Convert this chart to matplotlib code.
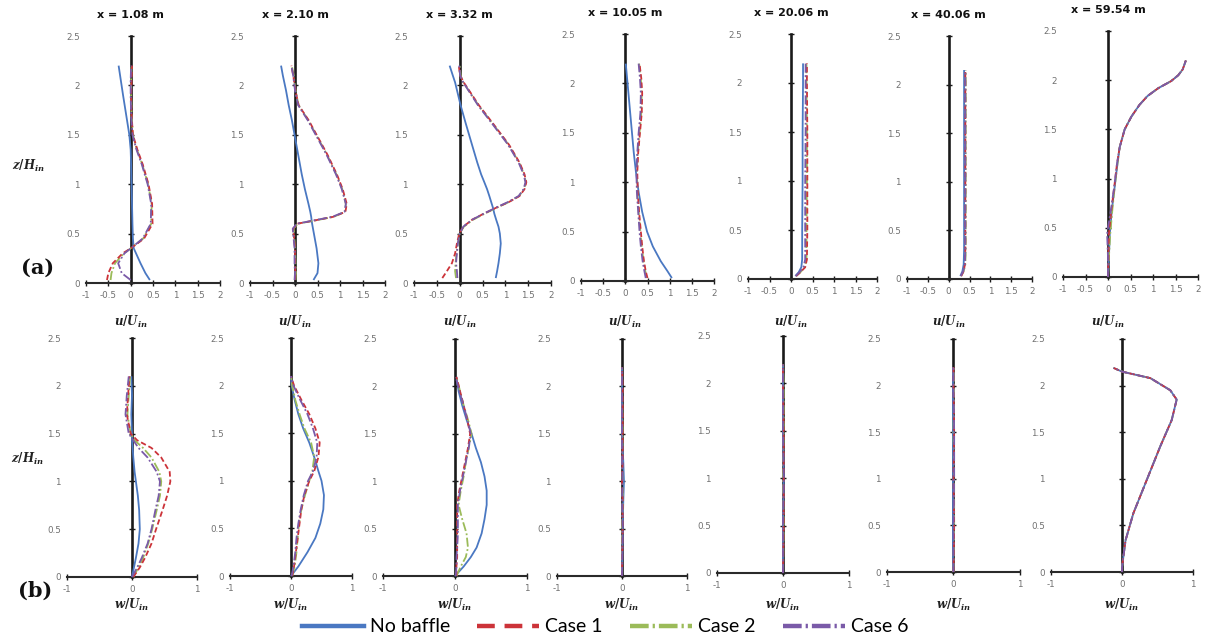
import matplotlib
matplotlib.use("Agg")
import matplotlib.pyplot as plt
from matplotlib.lines import Line2D
from matplotlib.transforms import blended_transform_factory

plt.rcParams["mathtext.fontset"] = "custom"
plt.rcParams["mathtext.it"] = "DejaVu Serif:italic:bold"
plt.rcParams["mathtext.rm"] = "DejaVu Serif:bold"
plt.rcParams["font.family"] = ["DejaVu Sans"]

# ---------------- data: top row (u/U_in) ----------------
TOP_TITLES = ["x = 1.08 m", "x = 2.10 m", "x = 3.32 m", "x = 10.05 m",
              "x = 20.06 m", "x = 40.06 m", "x = 59.54 m"]
TOP_XTICKS = [-1, -0.5, 0, 0.5, 1, 1.5, 2]
TOP_XTICKLABELS = ["-1", "-0.5", "0", "0.5", "1", "1.5", "2"]
BOT_XTICKS = [-1, 0, 1]
BOT_XTICKLABELS = ["-1", "0", "1"]
YTICKS = [0, 0.5, 1, 1.5, 2, 2.5]
YTICKLABELS = ["0", "0.5", "1", "1.5", "2", "2.5"]
SERIES = ["No baffle", "Case 1", "Case 2", "Case 6"]

T1_Z  = [0.03, 0.1, 0.2, 0.3, 0.35, 0.45, 0.6, 0.8, 1.0, 1.2, 1.35, 1.5, 1.7, 1.9, 2.05, 2.2]
T1_NB = [0.43, 0.33, 0.22, 0.12, 0.07, 0.05, 0.04, 0.03, 0.02, 0.01, 0.0, -0.03, -0.1, -0.17, -0.22, -0.27]
T1_C1 = [-0.53, -0.5, -0.4, -0.18, 0.0, 0.3, 0.49, 0.48, 0.4, 0.27, 0.15, 0.05, 0.02, 0.01, 0.02, 0.03]
T1_C2 = [-0.45, -0.43, -0.35, -0.15, 0.0, 0.28, 0.46, 0.47, 0.39, 0.26, 0.14, 0.05, 0.02, 0.01, 0.01, 0.02]
T1_C6 = [0.0, -0.2, -0.28, -0.14, 0.0, 0.27, 0.45, 0.46, 0.38, 0.25, 0.13, 0.04, 0.01, 0.0, 0.0, 0.01]

T2_Z  = [0.03, 0.1, 0.2, 0.35, 0.5, 0.55, 0.6, 0.63, 0.67, 0.72, 0.8, 0.95, 1.1, 1.3, 1.5, 1.65, 1.8, 1.95, 2.1, 2.2]
T2_NB = [0.41, 0.5, 0.52, 0.48, 0.42, 0.4, 0.38, 0.37, 0.36, 0.34, 0.3, 0.22, 0.15, 0.07, -0.01, -0.07, -0.14, -0.2, -0.27, -0.31]
T2_C1 = [0.0, 0.01, 0.0, 0.0, -0.03, -0.04, 0.05, 0.4, 0.85, 1.12, 1.15, 1.06, 0.93, 0.72, 0.48, 0.3, 0.08, 0.01, -0.04, -0.08]
T2_C2 = [0.01, 0.02, 0.01, 0.0, -0.02, -0.03, 0.06, 0.42, 0.86, 1.11, 1.13, 1.05, 0.92, 0.71, 0.47, 0.29, 0.08, 0.01, -0.03, -0.07]
T2_C6 = [-0.01, 0.0, -0.01, -0.01, -0.04, -0.05, 0.04, 0.38, 0.83, 1.1, 1.13, 1.04, 0.91, 0.7, 0.46, 0.28, 0.07, 0.0, -0.04, -0.08]

T3_Z  = [0.05, 0.12, 0.2, 0.3, 0.4, 0.5, 0.57, 0.64, 0.7, 0.76, 0.82, 0.88, 0.95, 1.02, 1.1, 1.22, 1.4, 1.62, 1.8, 2.03, 2.1, 2.2]
T3_NB = [0.79, 0.82, 0.85, 0.88, 0.9, 0.88, 0.85, 0.8, 0.76, 0.73, 0.69, 0.65, 0.6, 0.54, 0.47, 0.385, 0.27, 0.13, 0.02, -0.1, -0.15, -0.22]
T3_C1 = [-0.38, -0.28, -0.17, -0.1, -0.06, -0.01, 0.08, 0.27, 0.52, 0.79, 1.08, 1.31, 1.42, 1.46, 1.42, 1.31, 1.08, 0.72, 0.42, 0.09, 0.01, -0.02]
T3_C2 = [-0.08, -0.1, -0.09, -0.07, -0.04, 0.0, 0.09, 0.29, 0.54, 0.8, 1.08, 1.3, 1.41, 1.45, 1.41, 1.3, 1.07, 0.71, 0.41, 0.08, 0.02, 0.0]
T3_C6 = [-0.05, -0.06, -0.08, -0.06, -0.04, 0.0, 0.08, 0.27, 0.52, 0.78, 1.06, 1.29, 1.4, 1.44, 1.4, 1.29, 1.06, 0.7, 0.4, 0.08, 0.01, -0.01]

T4_Z  = [0.03, 0.1, 0.2, 0.35, 0.5, 0.7, 0.9, 1.1, 1.3, 1.5, 1.7, 1.9, 2.05, 2.2]
T4_NB = [1.05, 0.95, 0.8, 0.62, 0.49, 0.38, 0.3, 0.24, 0.19, 0.15, 0.11, 0.07, 0.04, 0.01]
T4_C1 = [0.5, 0.46, 0.42, 0.38, 0.35, 0.31, 0.28, 0.27, 0.29, 0.33, 0.37, 0.38, 0.36, 0.32]
T4_C2 = [0.48, 0.45, 0.41, 0.37, 0.34, 0.3, 0.27, 0.26, 0.28, 0.32, 0.36, 0.37, 0.35, 0.31]
T4_C6 = [0.46, 0.43, 0.39, 0.35, 0.32, 0.29, 0.26, 0.25, 0.27, 0.3, 0.34, 0.35, 0.33, 0.3]

T5_Z  = [0.03, 0.07, 0.12, 0.2, 0.5, 1.0, 1.5, 2.0, 2.2]
T5_NB = [0.1, 0.18, 0.24, 0.26, 0.26, 0.27, 0.27, 0.28, 0.28]
T5_C1 = [0.12, 0.22, 0.33, 0.37, 0.38, 0.38, 0.38, 0.37, 0.37]
T5_C2 = [0.12, 0.22, 0.32, 0.36, 0.36, 0.37, 0.37, 0.36, 0.36]
T5_C6 = [0.11, 0.2, 0.29, 0.33, 0.33, 0.33, 0.34, 0.34, 0.34]

T6_Z  = [0.03, 0.08, 0.15, 0.3, 1.0, 2.0, 2.15]
T6_NB = [0.28, 0.33, 0.36, 0.37, 0.37, 0.37, 0.37]
T6_C1 = [0.3, 0.36, 0.39, 0.4, 0.4, 0.4, 0.4]
T6_C2 = [0.3, 0.36, 0.4, 0.41, 0.41, 0.41, 0.41]
T6_C6 = [0.29, 0.35, 0.39, 0.4, 0.4, 0.4, 0.4]

T7_Z  = [0.0, 0.2, 0.44, 0.7, 0.92, 1.15, 1.32, 1.5, 1.63, 1.75, 1.84, 1.92, 1.99, 2.05, 2.11, 2.2]
T7_NB = [0.0, 0.02, 0.04, 0.09, 0.15, 0.21, 0.26, 0.37, 0.52, 0.7, 0.88, 1.12, 1.4, 1.56, 1.66, 1.73]
T7_C1 = [0.0, 0.01, 0.02, 0.08, 0.14, 0.2, 0.26, 0.37, 0.52, 0.7, 0.88, 1.12, 1.4, 1.56, 1.66, 1.73]
T7_C2 = [0.0, 0.02, 0.05, 0.1, 0.15, 0.21, 0.26, 0.37, 0.52, 0.7, 0.88, 1.12, 1.4, 1.56, 1.66, 1.73]
T7_C6 = [0.0, 0.0, -0.02, 0.07, 0.14, 0.2, 0.26, 0.37, 0.52, 0.7, 0.88, 1.12, 1.4, 1.56, 1.66, 1.73]

# ---------------- data: bottom row (w/U_in) ----------------
B1_Z  = [0.0, 0.1, 0.2, 0.35, 0.5, 0.7, 0.85, 1.0, 1.1, 1.25, 1.35, 1.43, 1.5, 1.7, 1.9, 2.1]
B1_NB = [0.0, 0.03, 0.06, 0.1, 0.12, 0.11, 0.09, 0.06, 0.04, 0.02, 0.01, 0.0, 0.0, -0.01, 0.0, -0.01]
B1_C1 = [0.02, 0.12, 0.2, 0.3, 0.37, 0.47, 0.54, 0.59, 0.58, 0.45, 0.3, 0.08, -0.02, -0.08, -0.06, -0.04]
B1_C2 = [0.02, 0.1, 0.17, 0.25, 0.31, 0.38, 0.43, 0.45, 0.42, 0.3, 0.17, 0.04, -0.02, -0.07, -0.05, -0.03]
B1_C6 = [0.0, 0.08, 0.15, 0.24, 0.3, 0.36, 0.41, 0.43, 0.38, 0.24, 0.1, 0.02, -0.05, -0.1, -0.08, -0.05]

B2_Z  = [0.0, 0.1, 0.25, 0.4, 0.55, 0.7, 0.85, 1.0, 1.1, 1.25, 1.4, 1.55, 1.7, 1.85, 2.0, 2.1]
B2_NB = [0.0, 0.12, 0.27, 0.4, 0.48, 0.53, 0.54, 0.5, 0.45, 0.38, 0.3, 0.2, 0.12, 0.06, 0.01, 0.0]
B2_C1 = [0.02, 0.05, 0.08, 0.11, 0.14, 0.17, 0.22, 0.3, 0.38, 0.45, 0.47, 0.4, 0.3, 0.17, 0.05, 0.0]
B2_C2 = [0.02, 0.06, 0.09, 0.11, 0.13, 0.17, 0.23, 0.3, 0.35, 0.38, 0.33, 0.22, 0.14, 0.07, 0.02, 0.0]
B2_C6 = [0.01, 0.04, 0.07, 0.09, 0.12, 0.16, 0.21, 0.28, 0.36, 0.42, 0.43, 0.36, 0.27, 0.15, 0.04, 0.0]

B3_Z  = [0.0, 0.1, 0.2, 0.3, 0.45, 0.6, 0.75, 0.9, 1.05, 1.2, 1.35, 1.5, 1.65, 1.8, 1.95, 2.1]
B3_NB = [0.0, 0.12, 0.22, 0.3, 0.37, 0.41, 0.44, 0.44, 0.41, 0.36, 0.29, 0.23, 0.16, 0.1, 0.05, 0.02]
B3_C1 = [0.02, 0.02, 0.03, 0.03, 0.03, 0.03, 0.03, 0.06, 0.1, 0.14, 0.18, 0.21, 0.17, 0.12, 0.07, 0.02]
B3_C2 = [0.02, 0.08, 0.15, 0.18, 0.16, 0.1, 0.05, 0.08, 0.12, 0.15, 0.19, 0.23, 0.18, 0.12, 0.07, 0.02]
B3_C6 = [0.01, 0.02, 0.02, 0.03, 0.04, 0.04, 0.04, 0.07, 0.11, 0.15, 0.19, 0.22, 0.17, 0.12, 0.06, 0.01]

B4_Z  = [0.0, 0.5, 0.8, 1.0, 1.2, 1.5, 2.0, 2.2]
B4_NB = [0.0, 0.01, 0.02, 0.03, 0.02, 0.0, 0.0, 0.0]
B4_C1 = [0.0, 0.01, 0.01, 0.0, 0.01, 0.01, 0.01, 0.0]
B4_C2 = [0.0, 0.0, 0.01, 0.01, 0.0, 0.01, 0.0, 0.0]
B4_C6 = [0.0, 0.01, 0.0, 0.01, 0.0, 0.0, 0.0, 0.0]

B5_Z  = [0.0, 0.5, 1.0, 1.5, 2.0, 2.2]
B5_NB = [0.0, 0.0, 0.01, 0.0, 0.0, 0.0]
B5_C1 = [0.0, 0.01, 0.01, 0.01, 0.0, 0.0]
B5_C2 = [0.0, 0.01, 0.0, 0.01, 0.01, 0.0]
B5_C6 = [0.0, 0.0, 0.01, 0.0, 0.0, 0.0]

B6_Z  = [0.0, 0.5, 1.0, 1.5, 2.0, 2.2]
B6_NB = [0.0, 0.0, 0.0, 0.0, 0.0, 0.0]
B6_C1 = [0.0, 0.01, 0.0, 0.01, 0.0, 0.0]
B6_C2 = [0.0, 0.01, 0.01, 0.0, 0.01, 0.0]
B6_C6 = [0.0, 0.0, 0.01, 0.01, 0.0, 0.0]

B7_Z  = [0.0, 0.05, 0.34, 0.63, 0.99, 1.35, 1.63, 1.85, 1.95, 2.08, 2.15, 2.19]
B7_NB = [0.0, 0.0, 0.05, 0.16, 0.35, 0.54, 0.7, 0.77, 0.68, 0.4, 0.0, -0.12]
B7_C1 = [0.0, 0.0, 0.05, 0.16, 0.35, 0.54, 0.7, 0.77, 0.68, 0.4, 0.0, -0.12]
B7_C2 = [0.0, 0.0, 0.05, 0.16, 0.35, 0.54, 0.7, 0.77, 0.68, 0.4, 0.0, -0.12]
B7_C6 = [0.0, 0.0, 0.05, 0.16, 0.35, 0.54, 0.7, 0.77, 0.68, 0.4, 0.0, -0.12]

TOP_DATA = [
    (T1_Z, [T1_NB, T1_C1, T1_C2, T1_C6]),
    (T2_Z, [T2_NB, T2_C1, T2_C2, T2_C6]),
    (T3_Z, [T3_NB, T3_C1, T3_C2, T3_C6]),
    (T4_Z, [T4_NB, T4_C1, T4_C2, T4_C6]),
    (T5_Z, [T5_NB, T5_C1, T5_C2, T5_C6]),
    (T6_Z, [T6_NB, T6_C1, T6_C2, T6_C6]),
    (T7_Z, [T7_NB, T7_C1, T7_C2, T7_C6]),
]
BOT_DATA = [
    (B1_Z, [B1_NB, B1_C1, B1_C2, B1_C6]),
    (B2_Z, [B2_NB, B2_C1, B2_C2, B2_C6]),
    (B3_Z, [B3_NB, B3_C1, B3_C2, B3_C6]),
    (B4_Z, [B4_NB, B4_C1, B4_C2, B4_C6]),
    (B5_Z, [B5_NB, B5_C1, B5_C2, B5_C6]),
    (B6_Z, [B6_NB, B6_C1, B6_C2, B6_C6]),
    (B7_Z, [B7_NB, B7_C1, B7_C2, B7_C6]),
]

# ---------------- layout (pixel boxes: left, right, top, bottom) ----------------
W, H = 1227, 644
TOP_BOXES = [(86, 220, 36, 283), (250, 385, 36, 283), (414, 551, 36, 283),
             (581, 714, 34, 281), (748, 877, 34, 279), (907, 1032, 36, 279),
             (1063, 1198, 31, 277)]
BOT_BOXES = [(67, 197, 338, 577), (230, 352, 338, 576), (383, 527, 339, 576),
             (557, 687, 339, 576), (717, 849, 336, 573), (887, 1020, 339, 572),
             (1051, 1193, 339, 572)]

COLORS = ["#4a78c2", "#cc3339", "#9bbb59", "#7a5aa8"]
DASHES = [None, (3, 1.6), (5, 1.4, 1, 1.4), (5, 1.4, 1, 1.4)]
LEG_DASHES = [None, (4, 2.2), (4.2, 0.9, 0.5, 0.9), (4.2, 0.9, 0.5, 0.9)]
ORDER = [0, 2, 1, 3]

fig = plt.figure(figsize=(W / 100, H / 100), dpi=100)


def make_axes(box, xlim, xticks, xticklabels):
    l, r, t, b = box
    ax = fig.add_axes([l / W, 1 - b / H, (r - l) / W, (b - t) / H])
    ax.patch.set_alpha(0)
    ax.set_xlim(*xlim)
    ax.set_ylim(0, 2.5)
    ax.spines["left"].set_position(("data", 0))
    ax.spines["left"].set_linewidth(1.9)
    ax.spines["left"].set_color("#1a1a1a")
    ax.spines["bottom"].set_linewidth(1.5)
    ax.spines["bottom"].set_color("#2a2a2a")
    ax.spines["right"].set_visible(False)
    ax.spines["top"].set_visible(False)
    ax.set_xticks(xticks)
    ax.set_xticklabels(xticklabels)
    ax.set_yticks(YTICKS)
    ax.set_yticklabels(YTICKLABELS)
    ppu = (r - l) / (xlim[1] - xlim[0])
    ax.tick_params(axis="both", direction="inout", length=4, width=1.0,
                   color="#1a1a1a", labelsize=6.3, labelcolor="#707070")
    ax.tick_params(axis="y", pad=(ppu * (0 - xlim[0]) + 6) / (100 / 72) - 2)
    ax.tick_params(axis="x", pad=4)
    return ax


def draw_series(ax, z, series):
    for i in ORDER:
        ln, = ax.plot(series[i], z, color=COLORS[i], lw=1.3, clip_on=False,
                      zorder=3, solid_capstyle="butt")
        if DASHES[i] is not None:
            ln.set_dashes(DASHES[i])


for k in range(7):
    ax = make_axes(TOP_BOXES[k], (-1, 2), TOP_XTICKS, TOP_XTICKLABELS)
    z, series = TOP_DATA[k]
    draw_series(ax, z, series)
    l, r, t, b = TOP_BOXES[k]
    hpx = b - t
    tr = blended_transform_factory(ax.transData, ax.transAxes)
    ax.text(0, 1 + 21 / hpx, TOP_TITLES[k], transform=tr, ha="center",
            va="center", fontsize=8, fontweight="bold", color="#111111")
    ax.text(0, -(322 - b) / hpx, r"$u/U_{in}$", transform=tr, ha="center",
            va="center", fontsize=8.5, color="#222222")

for k in range(7):
    ax = make_axes(BOT_BOXES[k], (-1, 1), BOT_XTICKS, BOT_XTICKLABELS)
    z, series = BOT_DATA[k]
    draw_series(ax, z, series)
    l, r, t, b = BOT_BOXES[k]
    hpx = b - t
    tr = blended_transform_factory(ax.transData, ax.transAxes)
    ax.text(0, -(605 - b) / hpx, r"$w/U_{in}$", transform=tr, ha="center",
            va="center", fontsize=8.5, color="#222222")

# side labels
fig.text(28 / W, 1 - 166 / H, r"$z/H_{in}$", ha="center", va="center", fontsize=8.5, color="#222222")
fig.text(27 / W, 1 - 459 / H, r"$z/H_{in}$", ha="center", va="center", fontsize=8.5, color="#222222")
fig.text(38 / W, 1 - 268 / H, "(a)", ha="center", va="center", fontsize=15,
         fontweight="bold", family="DejaVu Serif", color="#111111")
fig.text(35 / W, 1 - 591 / H, "(b)", ha="center", va="center", fontsize=15,
         fontweight="bold", family="DejaVu Serif", color="#111111")

# legend
handles = []
for i in range(4):
    h = Line2D([], [], color=COLORS[i], lw=3.2)
    if LEG_DASHES[i] is not None:
        h.set_dashes(LEG_DASHES[i])
    handles.append(h)
fig.legend(handles, SERIES, loc="center", bbox_to_anchor=(605 / W, 1 - 627 / H),
           ncol=4, frameon=False, prop={"family": "Lato", "size": 14},
           handlelength=3.2, handletextpad=0.3, columnspacing=1.4,
           borderpad=0, borderaxespad=0)

fig.savefig("out.png", dpi=100)
